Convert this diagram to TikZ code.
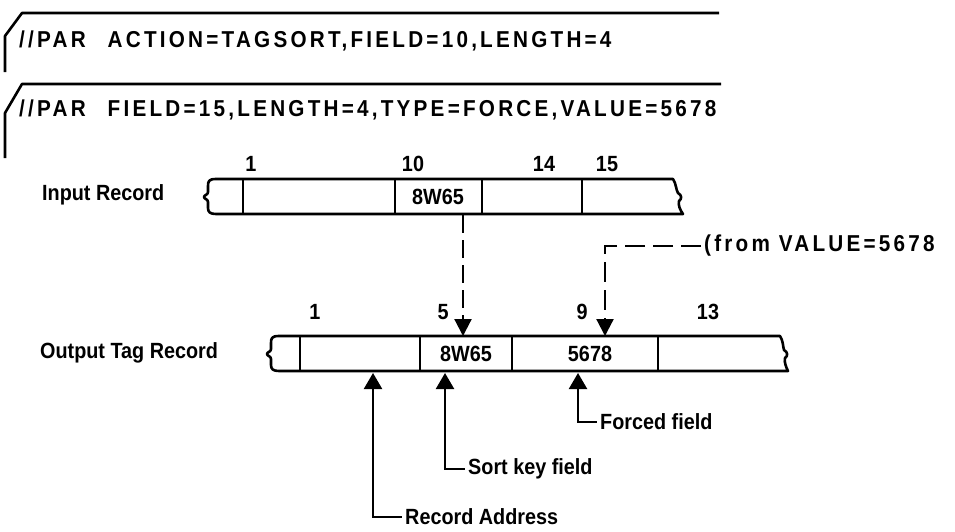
\documentclass[tikz,border=0pt]{standalone}
\usepackage{fontspec}
\setmainfont{Liberation Sans}[FakeStretch=0.9]
\newfontfamily\cardfont{Liberation Sans}[FakeStretch=0.9, LetterSpace=14]
\usetikzlibrary{arrows.meta, positioning}

\begin{document}
\begin{tikzpicture}[
  x=1pt, y=-1pt,
  font=\fontsize{22}{26}\selectfont\bfseries,
  card/.style={line width=2.6pt, line join=round},
  rec/.style={line width=2.6pt, line join=round},
  cell/.style={line width=2.2pt},
  lbl/.style={inner sep=0pt, anchor=west},
  num/.style={inner sep=0pt},
  feed/.style={line width=2.2pt, dash pattern=on 18pt off 7pt, -{Triangle[width=17pt,length=17pt]}},
  point/.style={line width=2.2pt, {Triangle[width=18pt,length=16pt]}-}
]
\useasboundingbox (0,0) rectangle (955,531);

% control cards
\draw[card] (5,72) -- (5,36) -- (22,13) -- (719,13);
\node[lbl] (par1) at (19,41) {\fontsize{23}{26}\cardfont\bfseries //PAR\hspace{22pt}ACTION=TAGSORT,FIELD=10,LENGTH=4};
\draw[card] (5,158) -- (5,113) -- (22,84) -- (721,84);
\node[lbl] (par2) at (19,110) {\fontsize{23}{26}\cardfont\bfseries //PAR\hspace{22pt}FIELD=15,LENGTH=4,TYPE=FORCE,VALUE=5678};

% input record
\node[lbl] (inlbl) at (42,195) {Input Record};
\draw[rec] (216,179) -- (673,179)
  .. controls (676,183) and (676,190) .. (678,193)
  .. controls (682,195) and (682,199) .. (679,201)
  .. controls (678,205) and (680,210) .. (683,214) -- (216,214)
  .. controls (210,214) and (208,212) .. (208,208) -- (208,202)
  .. controls (208,199) and (204,199) .. (204,197)
  .. controls (204,195) and (208,195) .. (208,192) -- (208,186)
  .. controls (208,181) and (209,179) .. (216,179);
\foreach \x in {243,395,482,582}
  \draw[cell] (\x,179) -- (\x,214);
\node[num] (in1) at (251,164) {1};
\node[num] (in10) at (413,164) {10};
\node[num] (in14) at (544,164) {14};
\node[num] (in15) at (607,164) {15};
\node[num] (inkey) at (438,197) {8W65};

% output tag record
\node[lbl] (outlbl) at (40,353) {Output Tag Record};
\draw[rec] (279,336) -- (780,336)
  .. controls (783,340) and (783,347) .. (784,350)
  .. controls (788,352) and (788,356) .. (785,358)
  .. controls (784,362) and (786,367) .. (788,371) -- (279,371)
  .. controls (273,371) and (271,369) .. (271,365) -- (271,359)
  .. controls (271,356) and (267,356) .. (267,354)
  .. controls (267,352) and (271,352) .. (271,349) -- (271,343)
  .. controls (271,338) and (272,336) .. (279,336);
\foreach \x in {300,420,512,658}
  \draw[cell] (\x,336) -- (\x,371);
\node[num] (out1) at (315,312) {1};
\node[num] (out5) at (443,312) {5};
\node[num] (out9) at (582,312) {9};
\node[num] (out13) at (708,312) {13};
\node[num] (outkey) at (466,354) {8W65};
\node[num] (outval) at (590,354) {5678};

% moves into the tag record
\coordinate (keyfrom) at (463,215);
\coordinate (keyto) at (463,336);
\draw[feed] (keyfrom) -- (keyto);
\node[lbl] (fromval) at (704,246) {\fontsize{23}{26}\cardfont\bfseries (from VALUE=5678};
\coordinate (valto) at (605,336);
\draw[feed, dash pattern=on 20pt off 8pt] ([xshift=-3pt]fromval.west) -| (valto);

% field callouts
\node[lbl] (forced) at (600,422) {Forced field};
\node[lbl] (sortkey) at (468,469) {Sort key field};
\node[lbl] (addr) at (405,517) {Record Address};
\coordinate (forcedtip) at (578,373);
\coordinate (sortkeytip) at (445,373);
\coordinate (addrtip) at (373,373);
\draw[point] (forcedtip) |- ([xshift=-3pt]forced.west);
\draw[point] (sortkeytip) |- ([xshift=-3pt]sortkey.west);
\draw[point] (addrtip) |- ([xshift=-3pt]addr.west);
\end{tikzpicture}
\end{document}
